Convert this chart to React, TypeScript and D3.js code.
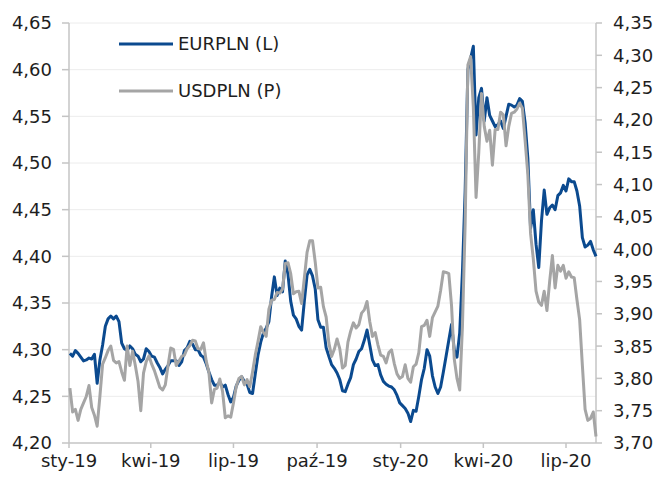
import React from "react";
import * as d3 from "d3";

// ---- data ----
// observations every 3 days starting 2019-01-02
const startDate = new Date(2019, 0, 2);
const stepDays = 3;

const eurpln: number[] = [
  4.296, 4.293, 4.299, 4.296, 4.292, 4.288, 4.289, 4.291, 4.29, 4.295,
  4.264, 4.289, 4.305, 4.325, 4.333, 4.336, 4.333, 4.336, 4.33, 4.307,
  4.301, 4.299, 4.304, 4.301, 4.295, 4.293, 4.287, 4.29, 4.301, 4.298,
  4.293, 4.292, 4.286, 4.281, 4.274, 4.279, 4.283, 4.288, 4.288, 4.288,
  4.283, 4.287, 4.299, 4.302, 4.309, 4.306, 4.3, 4.3, 4.294, 4.292,
  4.285, 4.276, 4.268, 4.262, 4.262, 4.265, 4.26, 4.262, 4.252, 4.244,
  4.249, 4.261, 4.267, 4.271, 4.266, 4.263, 4.254, 4.253, 4.274, 4.294,
  4.308, 4.318, 4.323, 4.33, 4.357, 4.378, 4.358, 4.366, 4.362, 4.395,
  4.381, 4.352, 4.337, 4.333, 4.325, 4.321, 4.352, 4.38, 4.386, 4.379,
  4.365, 4.332, 4.324, 4.324, 4.302, 4.293, 4.284, 4.28, 4.275, 4.268,
  4.256, 4.255, 4.263, 4.27, 4.284, 4.29, 4.298, 4.301, 4.31, 4.321,
  4.305, 4.289, 4.283, 4.284, 4.273, 4.266, 4.263, 4.261, 4.26, 4.257,
  4.251, 4.243, 4.24, 4.237, 4.232, 4.223, 4.235, 4.234, 4.25, 4.268,
  4.28, 4.3, 4.293, 4.272, 4.26, 4.253, 4.26, 4.276, 4.293, 4.31,
  4.327, 4.3, 4.292, 4.318, 4.383, 4.47, 4.6, 4.612, 4.625, 4.53,
  4.57, 4.58, 4.545, 4.57, 4.551, 4.545, 4.539, 4.541, 4.545, 4.537,
  4.55, 4.563, 4.562, 4.56, 4.562, 4.569, 4.566, 4.543, 4.505, 4.43,
  4.45, 4.413, 4.388, 4.438, 4.471, 4.445, 4.452, 4.455, 4.45, 4.465,
  4.468, 4.476, 4.47, 4.483, 4.48, 4.48, 4.47, 4.454, 4.42, 4.41,
  4.412, 4.416, 4.407, 4.4,
];

const usdpln: number[] = [
  3.785, 3.748, 3.752, 3.735, 3.752, 3.762, 3.772, 3.789, 3.755, 3.743,
  3.726, 3.772, 3.822, 3.832, 3.843, 3.85, 3.828, 3.824, 3.826, 3.81,
  3.797, 3.85, 3.82, 3.842, 3.82, 3.795, 3.75, 3.808, 3.826, 3.835,
  3.822, 3.812, 3.799, 3.786, 3.782, 3.79, 3.82, 3.847, 3.845, 3.82,
  3.827, 3.834, 3.836, 3.846, 3.851, 3.859, 3.858, 3.846, 3.845, 3.855,
  3.827, 3.809, 3.762, 3.783, 3.785, 3.799, 3.78, 3.739, 3.742, 3.74,
  3.762, 3.787, 3.8, 3.803, 3.79, 3.798, 3.787, 3.81, 3.836, 3.857,
  3.88, 3.871, 3.865, 3.907, 3.921, 3.922, 3.933, 3.932, 3.938, 3.978,
  3.979, 3.962, 3.931, 3.934, 3.935, 3.916, 3.955, 3.995, 4.013, 4.013,
  3.98, 3.94, 3.941, 3.911, 3.895, 3.855, 3.834, 3.845, 3.861, 3.846,
  3.816, 3.82, 3.856, 3.873, 3.886, 3.878, 3.883, 3.901, 3.906, 3.919,
  3.888, 3.865, 3.871, 3.852, 3.836, 3.834, 3.824, 3.84, 3.844, 3.823,
  3.807, 3.8, 3.803, 3.821, 3.8, 3.794, 3.818, 3.822, 3.84, 3.88,
  3.882, 3.89, 3.865, 3.894, 3.903, 3.912, 3.936, 3.965, 3.964, 3.962,
  3.913, 3.83, 3.8, 3.782, 3.88, 4.04, 4.285, 4.298, 4.22, 4.08,
  4.15, 4.241, 4.19, 4.167, 4.184, 4.13, 4.185, 4.185, 4.212, 4.208,
  4.16, 4.19, 4.21, 4.212, 4.217, 4.226, 4.218, 4.168, 4.115, 4.024,
  3.985, 3.935, 3.918, 3.913, 3.935, 3.905, 3.95, 3.99, 3.94, 3.975,
  3.966, 3.975, 3.955, 3.965, 3.957, 3.956, 3.922, 3.891, 3.82, 3.752,
  3.735, 3.738, 3.748, 3.71,
];

const leftTicks = [4.2, 4.25, 4.3, 4.35, 4.4, 4.45, 4.5, 4.55, 4.6, 4.65];
const rightTicks = [3.7, 3.75, 3.8, 3.85, 3.9, 3.95, 4.0, 4.05, 4.1, 4.15, 4.2, 4.25, 4.3, 4.35];
const xTickDates = [
  new Date(2019, 0, 1), new Date(2019, 3, 1), new Date(2019, 6, 1), new Date(2019, 9, 1),
  new Date(2020, 0, 1), new Date(2020, 3, 1), new Date(2020, 6, 1),
];
const xTickLabels = ["sty-19", "kwi-19", "lip-19", "paź-19", "sty-20", "kwi-20", "lip-20"];
const seriesNames = ["EURPLN (L)", "USDPLN (P)"];

const W = 657;
const H = 481;
const plot = { left: 69, right: 596, top: 23, bottom: 443 };
const FONT = "'DejaVu Sans', sans-serif";
const BLUE = "#0b4a8f";
const GRAY = "#a5a5a5";
const AXIS = "#c4c4c4";
const TEXT = "#1e1e1e";

const fmt = (v: number) => v.toFixed(2).replace(".", ",");

export default function App() {
  const dates = d3.timeDay.range(startDate, d3.timeDay.offset(startDate, stepDays * eurpln.length), stepDays);

  const x = d3
    .scaleTime()
    .domain([new Date(2019, 0, 1), new Date(2020, 7, 3)])
    .range([plot.left, plot.right]);
  const yL = d3.scaleLinear().domain([4.2, 4.65]).range([plot.bottom, plot.top]);
  const yR = d3.scaleLinear().domain([3.7, 4.35]).range([plot.bottom, plot.top]);

  const eurLine = d3
    .line<number>()
    .x((_, i) => x(dates[i]))
    .y((d) => yL(d))
    .curve(d3.curveLinear);
  const usdLine = d3
    .line<number>()
    .x((_, i) => x(dates[i]))
    .y((d) => yR(d))
    .curve(d3.curveLinear);

  return (
    <svg width={W} height={H} style={{ position: "absolute", left: 0, top: 0, background: "#fff" }}>
      {/* gridlines */}
      {leftTicks.slice(1).map((t) => (
        <line key={"g" + t} x1={plot.left} x2={plot.right} y1={yL(t)} y2={yL(t)} stroke="#ececec" strokeWidth={1} />
      ))}

      {/* left axis */}
      <line x1={plot.left} x2={plot.left} y1={plot.top} y2={plot.bottom} stroke={AXIS} strokeWidth={1.5} />
      {leftTicks.map((t) => (
        <g key={"l" + t}>
          <line x1={plot.left - 7} x2={plot.left} y1={yL(t)} y2={yL(t)} stroke={AXIS} strokeWidth={1.5} />
          <text x={52} y={yL(t)} dy="0.36em" textAnchor="end" fontFamily={FONT} fontSize={18} fill={TEXT}>
            {fmt(t)}
          </text>
        </g>
      ))}

      {/* right axis */}
      <line x1={plot.right} x2={plot.right} y1={plot.top} y2={plot.bottom} stroke={AXIS} strokeWidth={1.5} />
      {rightTicks.map((t) => (
        <g key={"r" + t}>
          <line x1={plot.right} x2={plot.right + 6} y1={yR(t)} y2={yR(t)} stroke={AXIS} strokeWidth={1.5} />
          <text x={613} y={yR(t)} dy="0.36em" textAnchor="start" fontFamily={FONT} fontSize={18} fill={TEXT}>
            {fmt(t)}
          </text>
        </g>
      ))}

      {/* bottom axis */}
      <line x1={plot.left} x2={plot.right} y1={plot.bottom} y2={plot.bottom} stroke={AXIS} strokeWidth={1.5} />
      {xTickDates.map((d, i) => (
        <g key={"x" + i}>
          <line x1={x(d)} x2={x(d)} y1={plot.bottom} y2={plot.bottom + 5} stroke={AXIS} strokeWidth={1.5} />
          <text x={x(d)} y={467} textAnchor="middle" fontFamily={FONT} fontSize={18} fill={TEXT}>
            {xTickLabels[i]}
          </text>
        </g>
      ))}

      {/* series */}
      <path d={eurLine(eurpln) || ""} fill="none" stroke={BLUE} strokeWidth={3} strokeLinejoin="round" />
      <path d={usdLine(usdpln) || ""} fill="none" stroke={GRAY} strokeWidth={3} strokeLinejoin="round" />

      {/* legend */}
      <line x1={119} x2={173} y1={44} y2={44} stroke={BLUE} strokeWidth={3} />
      <text x={178} y={44} dy="0.36em" fontFamily={FONT} fontSize={18} fill={TEXT}>
        {seriesNames[0]}
      </text>
      <line x1={119} x2={173} y1={91} y2={91} stroke={GRAY} strokeWidth={3} />
      <text x={178} y={91} dy="0.36em" fontFamily={FONT} fontSize={18} fill={TEXT}>
        {seriesNames[1]}
      </text>
    </svg>
  );
}
